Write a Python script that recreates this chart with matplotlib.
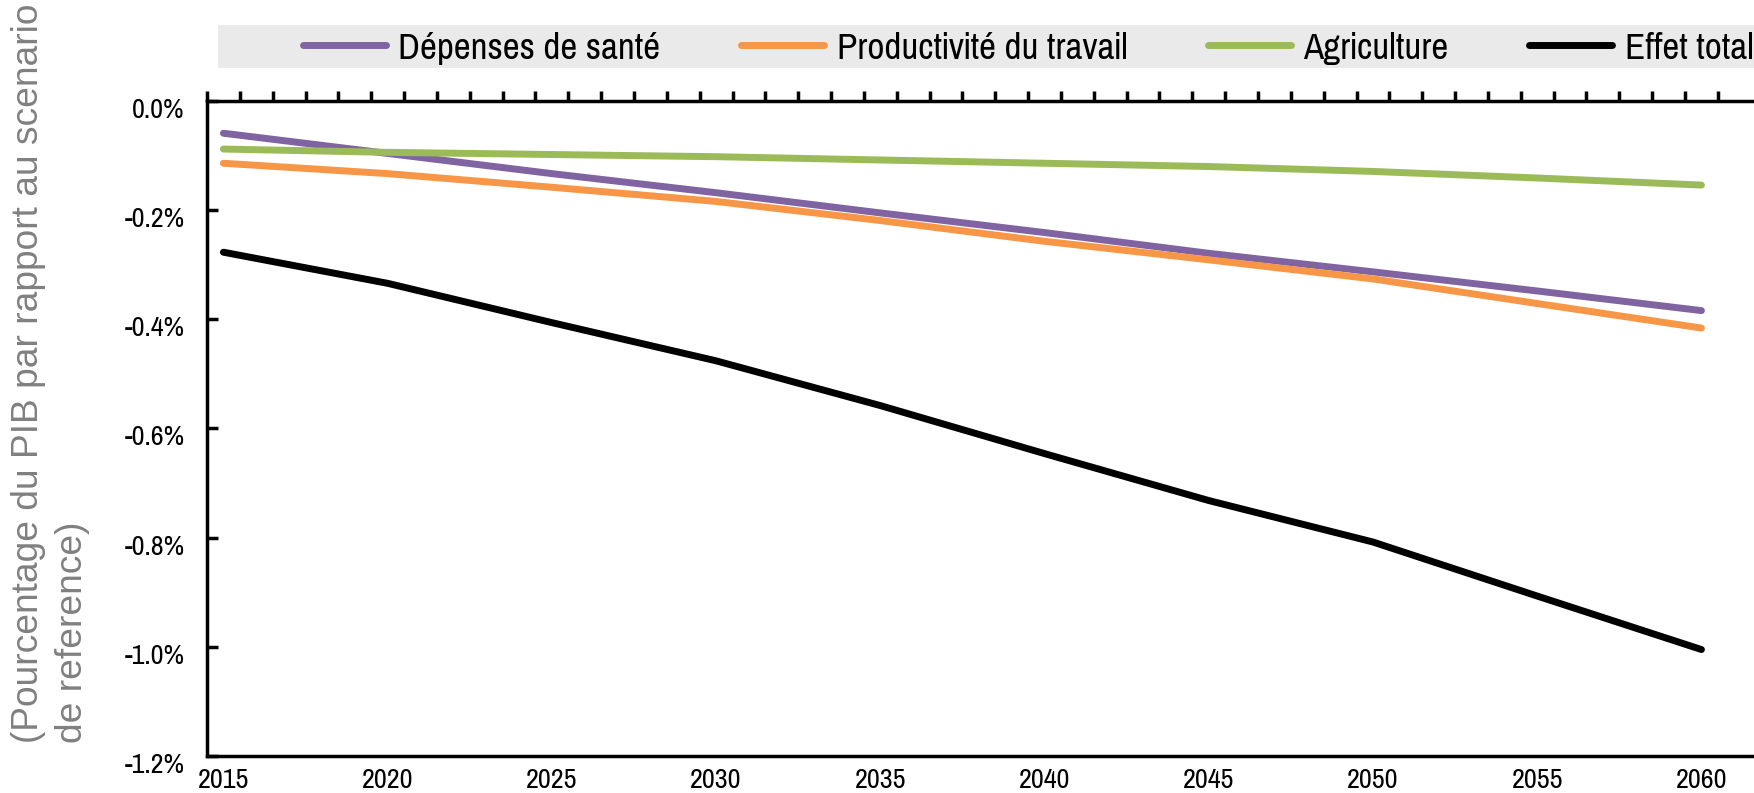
import matplotlib.pyplot as plt
import numpy as np
from matplotlib.ticker import FixedLocator, FuncFormatter
from matplotlib.transforms import ScaledTranslation

years = [2015, 2020, 2025, 2030, 2035, 2040, 2045, 2050, 2055, 2060]
sante = [-0.059, -0.096, -0.133, -0.168, -0.205, -0.241, -0.279, -0.313, -0.348, -0.384]
travail = [-0.114, -0.133, -0.158, -0.184, -0.219, -0.257, -0.291, -0.326, -0.371, -0.416]
agri = [-0.088, -0.094, -0.098, -0.102, -0.108, -0.114, -0.120, -0.129, -0.141, -0.154]
total = [-0.277, -0.334, -0.406, -0.476, -0.558, -0.646, -0.732, -0.808, -0.907, -1.005]

labels = ['Dépenses de santé', 'Productivité du travail', 'Agriculture', 'Effet total']
colors = ['#8064a2', '#f79646', '#9bbb59', '#000000']
yticks = [0.0, -0.2, -0.4, -0.6, -0.8, -1.0, -1.2]

narrow = ['Pragati Narrow', 'Archivo Narrow', 'Liberation Sans', 'DejaVu Sans']
plt.rcParams['font.family'] = narrow

fig = plt.figure(figsize=(17.54, 7.93), dpi=100)
ax = fig.add_axes([0.118, 0.0467, 0.882, 0.8259])

for series, lab, col in zip([sante, travail, agri, total], labels, colors):
    ax.plot(years, series, color=col, lw=5, label=lab, solid_capstyle='round')

ax.set_xlim(2014.5, 2061.6)
ax.set_ylim(-1.2, 0.0)

ax.set_yticks(yticks)
ax.yaxis.set_major_formatter(FuncFormatter(lambda v, p: '%.1f%%' % v))
ax.tick_params(axis='y', direction='in', length=8, width=2.5, labelsize=22, pad=16)
# labels sit a little below their ticks, as in the original
shift = ScaledTranslation(0, -7 / 100, fig.dpi_scale_trans)
for t in ax.get_yticklabels():
    t.set_transform(t.get_transform() + shift)

ax.set_xticks(years)
ax.xaxis.set_minor_locator(FixedLocator(np.arange(2014.5, 2061, 1.0)))
ax.tick_params(axis='x', which='major', bottom=False, top=False, labelbottom=True,
               labelsize=22, pad=5)
ax.tick_params(axis='x', which='minor', bottom=False, top=True, direction='out',
               length=7, width=2.5)

for s in ['left', 'top', 'bottom']:
    ax.spines[s].set_linewidth(2.5)
ax.spines['right'].set_visible(False)

# grey band behind the legend
fig.patches.append(plt.Rectangle((218 / 1754, 1 - 68 / 793), (1754 - 218) / 1754, 43 / 793,
                                 transform=fig.transFigure, facecolor='#eaeaea',
                                 edgecolor='none', zorder=0))
leg = fig.legend(loc='center left', bbox_to_anchor=(303 / 1754, 1 - 48 / 793),
                 ncol=4, fontsize=29, frameon=False, handlelength=2.05,
                 handletextpad=0.32, columnspacing=2.0, borderaxespad=0, borderpad=0)

fig.text(0.006, 0.063, '(Pourcentage du PIB par rapport au scenario\nde reference)',
         rotation=90, ha='left', va='bottom', multialignment='left', linespacing=1.35,
         fontsize=26.7, color='#808080', family=['Liberation Sans', 'DejaVu Sans'])

fig.savefig('out.png', dpi=100)
